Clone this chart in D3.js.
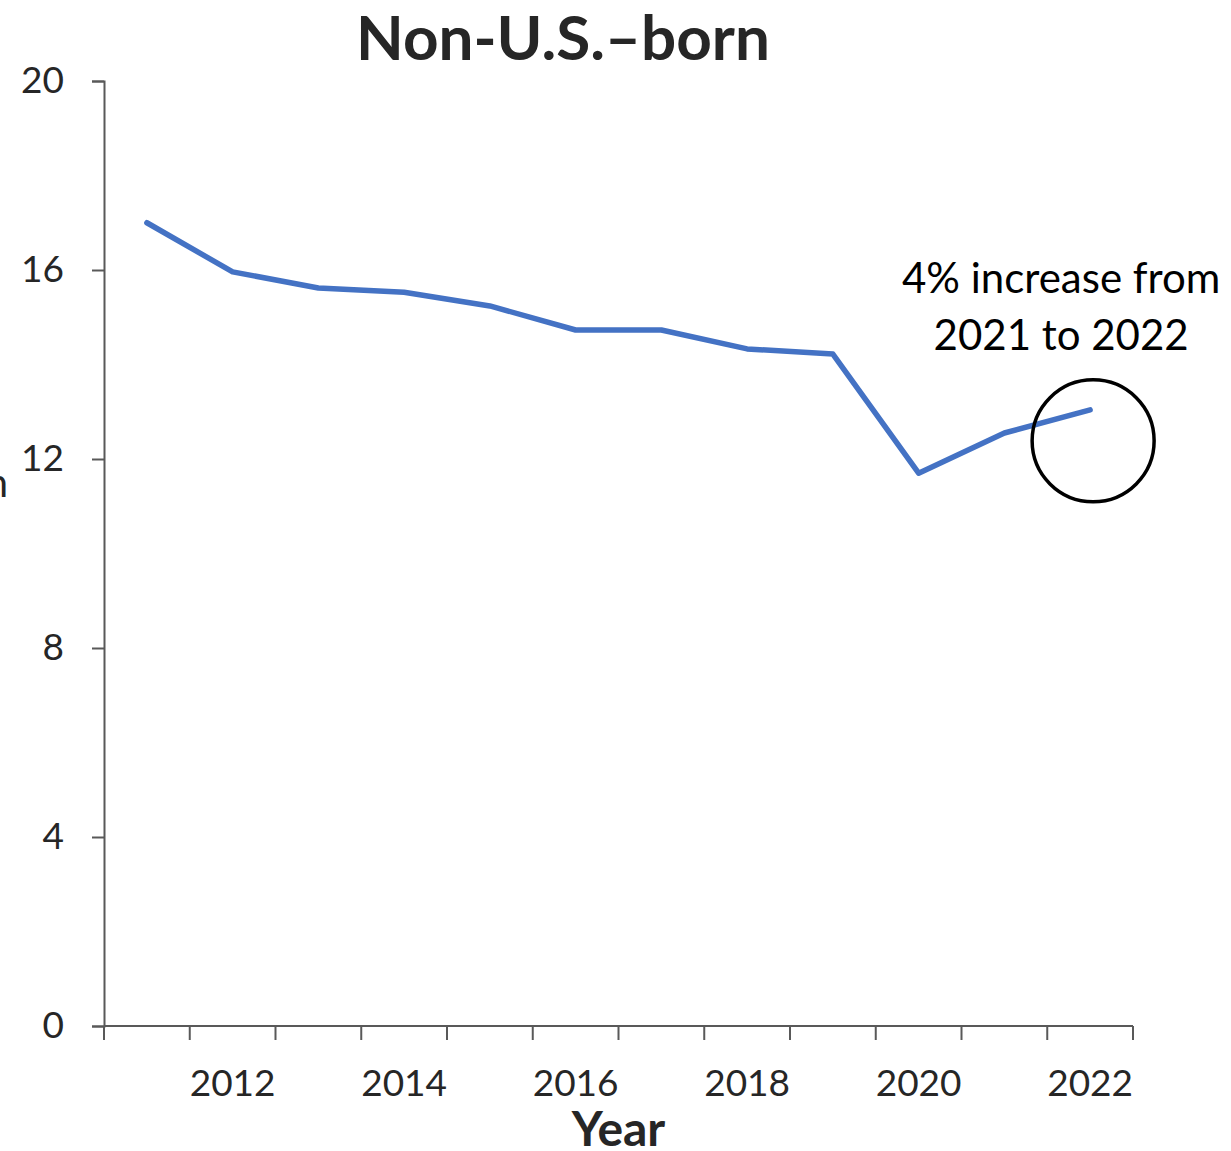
<!DOCTYPE html>
<html>
<head>
<meta charset="utf-8">
<script src="https://cdn.jsdelivr.net/npm/d3@7"></script>
<style>
  body { margin: 0; background: #fff; }
  svg text { font-family: Lato, "Open Sans", sans-serif; fill: #262626; }
</style>
</head>
<body>
<div id="chart"></div>
<script>
// Non-U.S.-born line chart, 2011-2022

const years = ['2011', '2012', '2013', '2014', '2015', '2016', '2017', '2018', '2019', '2020', '2021', '2022'];
const rates = [17.0, 15.96, 15.62, 15.53, 15.24, 14.73, 14.73, 14.33, 14.22, 11.70, 12.55, 13.04];
const yTicks = [0, 4, 8, 12, 16, 20];
const xLabels = ['2012', '2014', '2016', '2018', '2020', '2022'];
const titleText = 'Non-U.S.–born';
const xTitle = 'Year';
const yTitle = 'Rate per 100,000 population';
const noteLines = ['4% increase from', '2021 to 2022'];
const highlightYear = '2022';

const W = 1231, H = 1151;
const margin = {top: 81, right: 98, bottom: 125, left: 104};
const width = W - margin.left - margin.right;
const height = H - margin.top - margin.bottom;

const svg = d3.select('#chart')
    .append('svg')
    .attr('width', W)
    .attr('height', H);

const g = svg.append('g')
    .attr('transform', `translate(${margin.left},${margin.top})`);

const x = d3.scaleBand()
    .domain(years)
    .range([0, width]);

const y = d3.scaleLinear()
    .domain([0, 20])
    .range([height, 0]);

// y axis
const yAxis = g.append('g')
    .call(d3.axisLeft(y).tickValues(yTicks).tickSize(12).tickPadding(28));
yAxis.selectAll('text').style('font-size', '37px');
yAxis.select('.domain').attr('stroke', '#595959').attr('stroke-width', 2);
yAxis.selectAll('.tick line').attr('stroke', '#595959').attr('stroke-width', 2);

// x axis: ticks on category boundaries, labels at centers
const xAxis = g.append('g')
    .attr('transform', `translate(0,${height})`);
xAxis.append('line')
    .attr('x1', 0).attr('x2', width)
    .attr('stroke', '#595959').attr('stroke-width', 2);
const bounds = years.map(d => x(d)).concat([width]);
xAxis.selectAll('.xtick')
    .data(bounds)
    .enter()
    .append('line')
    .attr('class', 'xtick')
    .attr('x1', d => d).attr('x2', d => d)
    .attr('y1', 0).attr('y2', 14)
    .attr('stroke', '#595959').attr('stroke-width', 2);
xAxis.selectAll('.xlab')
    .data(xLabels)
    .enter()
    .append('text')
    .attr('class', 'xlab')
    .attr('x', d => x(d) + x.bandwidth() / 2)
    .attr('y', 70)
    .attr('text-anchor', 'middle')
    .style('font-size', '37px')
    .text(d => d);

// line
const line = d3.line()
    .x((d, i) => x(years[i]) + x.bandwidth() / 2)
    .y(d => y(d));

g.append('path')
    .datum(rates)
    .attr('fill', 'none')
    .attr('stroke', '#4472C4')
    .attr('stroke-width', 5.5)
    .attr('stroke-linejoin', 'round')
    .attr('stroke-linecap', 'round')
    .attr('d', line);

// highlight circle + note
const hi = years.indexOf(highlightYear);
g.append('circle')
    .attr('cx', x(highlightYear) + x.bandwidth() / 2 + 3)
    .attr('cy', y(rates[hi]) + 31)
    .attr('r', 61)
    .attr('fill', 'none')
    .attr('stroke', '#000')
    .attr('stroke-width', 3.5);

const note = g.append('text')
    .attr('text-anchor', 'middle')
    .style('font-size', '42px')
    .style('fill', '#000');
noteLines.forEach((t, i) => {
    note.append('tspan')
        .attr('x', x(highlightYear) + x.bandwidth() / 2 - 29)
        .attr('y', y(rates[hi]) - 117 + i * 57)
        .text(t);
});

// titles
svg.append('text')
    .attr('x', 563)
    .attr('y', 60)
    .attr('text-anchor', 'middle')
    .style('font-size', '62px')
    .style('font-weight', 'bold')
    .text(titleText);

svg.append('text')
    .attr('x', margin.left + width / 2)
    .attr('y', H - 5)
    .attr('text-anchor', 'middle')
    .style('font-size', '48px')
    .style('font-weight', 'bold')
    .text(xTitle);

svg.append('text')
    .attr('x', 8)
    .attr('y', 497)
    .attr('text-anchor', 'end')
    .style('font-size', '40px')
    .text(yTitle);
</script>
</body>
</html>
